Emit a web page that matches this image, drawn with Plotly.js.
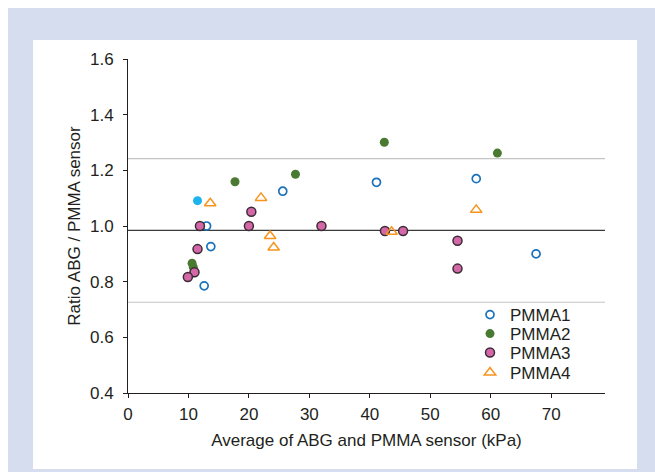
<!DOCTYPE html>
<html>
<head>
<meta charset="utf-8">
<script src="https://cdn.plot.ly/plotly-3.0.1.min.js"></script>
<style>html,body{margin:0;padding:0;background:#fff;}#chart{width:655px;height:472px;}</style>
</head>
<body>
<div id="chart"></div>
<script>
// Data
var pmma1X = [13.0, 13.7, 12.6, 25.6, 41.1, 57.6, 67.5];
var pmma1Y = [1.000, 0.926, 0.785, 1.125, 1.157, 1.170, 0.900];
var pmma1FilledX = [11.5];
var pmma1FilledY = [1.091];
var pmma2X = [17.7, 27.7, 10.6, 10.8, 10.9, 42.4, 61.1];
var pmma2Y = [1.159, 1.186, 0.866, 0.852, 0.832, 1.301, 1.262];
var pmma3X = [11.9, 11.5, 11.0, 9.9, 20.4, 20.0, 32.0, 42.5, 45.5, 54.5, 54.5];
var pmma3Y = [1.000, 0.917, 0.834, 0.817, 1.051, 1.000, 1.000, 0.982, 0.982, 0.947, 0.847];
var pmma4X = [13.6, 22.0, 23.5, 24.1, 43.6, 57.6];
var pmma4Y = [1.082, 1.101, 0.964, 0.923, 0.979, 1.058];
var seriesNames = ["PMMA1", "PMMA2", "PMMA3", "PMMA4"];
var meanLine = [0.984];
var limitLines = [1.242, 0.726];
var xTicks = [0, 10, 20, 30, 40, 50, 60, 70];
var yTicks = [0.4, 0.6, 0.8, 1.0, 1.2, 1.4, 1.6];
var yTickLabels = ["0.4", "0.6", "0.8", "1.0", "1.2", "1.4", "1.6"];

var txt = "#231f20";
var traces = [
  {x: pmma1X, y: pmma1Y, name: seriesNames[0], legend: "legend", type: "scatter", mode: "markers",
   marker: {symbol: "circle-open", size: 8, color: "#1a72bb", line: {width: 1.7, color: "#1a72bb"}}},
  {x: pmma2X, y: pmma2Y, name: seriesNames[1], legend: "legend2", type: "scatter", mode: "markers",
   marker: {symbol: "circle", size: 9, color: "#4a7a31", line: {width: 0}}},
  {x: pmma3X, y: pmma3Y, name: seriesNames[2], legend: "legend3", type: "scatter", mode: "markers",
   marker: {symbol: "circle", size: 9, color: "#d467a8", line: {width: 1.5, color: "#3b2b34"}}},
  {x: pmma4X, y: pmma4Y, name: seriesNames[3], legend: "legend4", type: "scatter", mode: "markers",
   marker: {symbol: "triangle-up-open", size: 10, color: "#f7941d", line: {width: 1.5, color: "#f7941d"}}},
  {x: pmma1FilledX, y: pmma1FilledY, name: seriesNames[0], showlegend: false, type: "scatter", mode: "markers",
   marker: {symbol: "circle", size: 9, color: "#1cb4ec", line: {width: 0}}}
];

var shapes = [
  {type: "rect", xref: "paper", yref: "paper", x0: -0.2516, x1: 1.12, y0: -0.26, y1: 1.1527,
   fillcolor: "#d5ddee", line: {width: 0}, layer: "below"},
  {type: "rect", xref: "paper", yref: "paper", x0: -0.1992, x1: 1.0671, y0: -0.2275, y1: 1.0569,
   fillcolor: "#ffffff", line: {width: 0}, layer: "below"}
];
limitLines.forEach(function (v) {
  shapes.push({type: "line", xref: "paper", yref: "y", x0: 0, x1: 1, y0: v, y1: v,
    line: {color: "#c4c4c4", width: 1.2}, layer: "below"});
});
meanLine.forEach(function (v) {
  shapes.push({type: "line", xref: "paper", yref: "y", x0: 0, x1: 1, y0: v, y1: v,
    line: {color: "#3a3a3a", width: 1.3}, layer: "below"});
});

function leg(y) {
  return {x: 0.717, y: y, xanchor: "left", yanchor: "middle", bgcolor: "rgba(0,0,0,0)",
    font: {size: 17, color: txt}, itemwidth: 30, borderwidth: 0};
}

var layout = {
  width: 655, height: 472,
  margin: {l: 128, r: 50, t: 59, b: 79, pad: 0},
  paper_bgcolor: "#ffffff",
  plot_bgcolor: "rgba(0,0,0,0)",
  font: {family: "Liberation Sans, Arial, sans-serif", size: 17, color: txt},
  showlegend: true,
  legend: leg(0.2335),
  legend2: leg(0.1766),
  legend3: leg(0.1198),
  legend4: leg(0.0599),
  xaxis: {range: [0, 78.9], tickvals: xTicks, ticks: "outside", ticklen: 4, tickwidth: 1, tickcolor: txt,
    showline: true, linecolor: txt, linewidth: 1, showgrid: false, zeroline: false,
    tickfont: {size: 17, color: txt}, automargin: false, ticklabelstandoff: 2,
    title: {text: "Average of ABG and PMMA sensor (kPa)", font: {size: 17, color: txt}, standoff: 10}},
  yaxis: {range: [0.4, 1.6], tickvals: yTicks, ticktext: yTickLabels, ticks: "outside", ticklen: 4, tickwidth: 1, tickcolor: txt,
    showline: true, linecolor: txt, linewidth: 1, showgrid: false, zeroline: false,
    tickfont: {size: 17, color: txt}, automargin: false, ticklabelstandoff: 6,
    title: {text: "Ratio ABG / PMMA sensor", font: {size: 17, color: txt}, standoff: 5}},
  shapes: shapes
};

Plotly.newPlot("chart", traces, layout, {displayModeBar: false, staticPlot: true});
</script>
</body>
</html>
